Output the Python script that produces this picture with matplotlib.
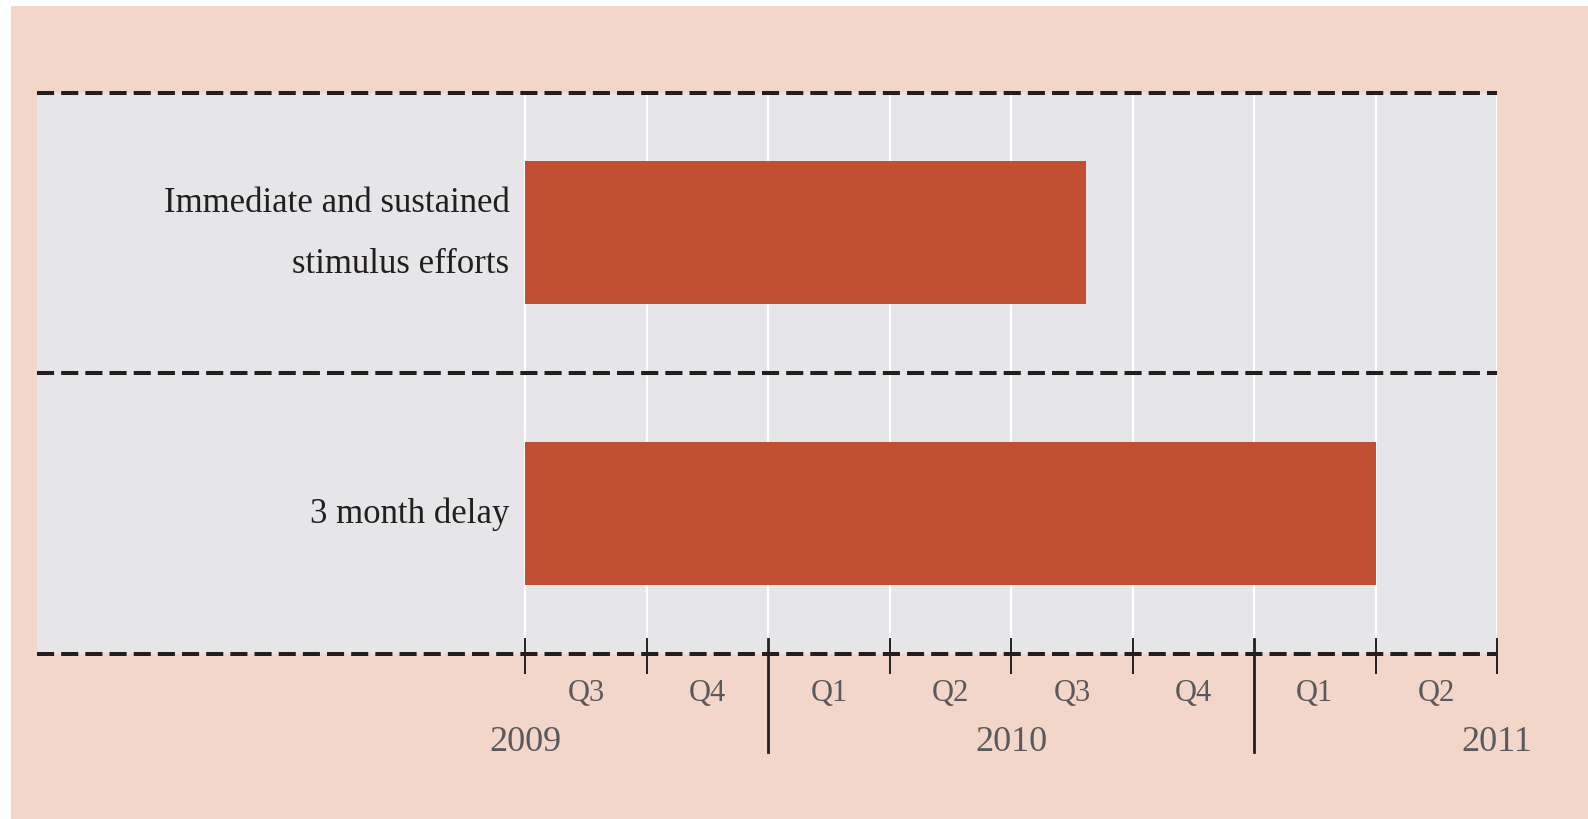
import matplotlib.pyplot as plt
from matplotlib.patches import Rectangle

# Datos del grafico (en trimestres desde 2009 Q3)
categorias = ["Immediate and sustained\nstimulus efforts", "3 month delay"]
inicio = [0, 0]
duracion = [4.62, 7.0]

trimestres = ["Q3", "Q4", "Q1", "Q2", "Q3", "Q4", "Q1", "Q2"]
anios = [2009, 2009, 2010, 2010, 2010, 2010, 2011, 2011]

# Colores
fondo = "#F2D6C9"
panel = "#E6E6E8"
color_barra = "#C15032"
oscuro = "#231F20"
gris_texto = "#5A5A5D"

plt.rcParams['font.family'] = ['Liberation Serif', 'DejaVu Serif']

fig = plt.figure(figsize=(15.88, 8.2), dpi=100)
fig.patch.set_facecolor("white")
fig.patches.append(Rectangle((11 / 1588, 0), 1, 1 - 7 / 820, transform=fig.transFigure,
                             facecolor=fondo, edgecolor="none", zorder=-10))

ax = fig.add_axes([37 / 1588, 1 - 655 / 820, (1497 - 37) / 1588, (655 - 93.5) / 820])
ax.set_facecolor(panel)
n = len(trimestres)
ax.set_xlim(-4.02, n)
ax.set_ylim(0, len(categorias))
for s in ax.spines.values():
    s.set_visible(False)
ax.set_xticks([])
ax.set_yticks([])

# lineas blancas de cada trimestre
for i in range(n + 1):
    ax.axvline(i, color="white", lw=1.6, zorder=1)

# barras (la primera categoria va arriba)
pos_y = [len(categorias) - 0.5 - k for k in range(len(categorias))]
ax.barh(pos_y, duracion, left=inicio, height=0.51, color=color_barra, zorder=2)

for y, texto in zip(pos_y, categorias):
    ax.text(-0.13, y, texto, ha="right", va="center", fontsize=25, color=oscuro,
            linespacing=2.1, zorder=3)

# lineas punteadas entre filas
for k in range(len(categorias) + 1):
    linea, = ax.plot([-4.02, n], [k, k], color=oscuro, lw=2.9, clip_on=False, zorder=4)
    linea.set_dashes((4.25, 1.75))

# marcas del eje de tiempo
tr = ax.get_xaxis_transform()
for i in range(n + 1):
    if 0 < i < n and anios[i] != anios[i - 1]:
        ax.plot([i, i], [0.027, -0.175], color=oscuro, lw=2.0, transform=tr, clip_on=False, zorder=5)
    else:
        ax.plot([i, i], [0.027, -0.034], color=oscuro, lw=1.4, transform=tr, clip_on=False, zorder=5)

for i, q in enumerate(trimestres):
    ax.text(i + 0.5, -0.068, q, ha="center", va="center", fontsize=22, color=gris_texto,
            transform=tr)

# etiqueta del anio en el centro del anio calendario
vistos = []
for i, (q, a) in enumerate(zip(trimestres, anios)):
    if a not in vistos:
        vistos.append(a)
        centro = i - (int(q[1]) - 1) + 2
        ax.text(centro, -0.155, str(a), ha="center", va="center", fontsize=26,
                color=gris_texto, transform=tr)

fig.savefig("out.png", dpi=100, facecolor=fig.get_facecolor())
